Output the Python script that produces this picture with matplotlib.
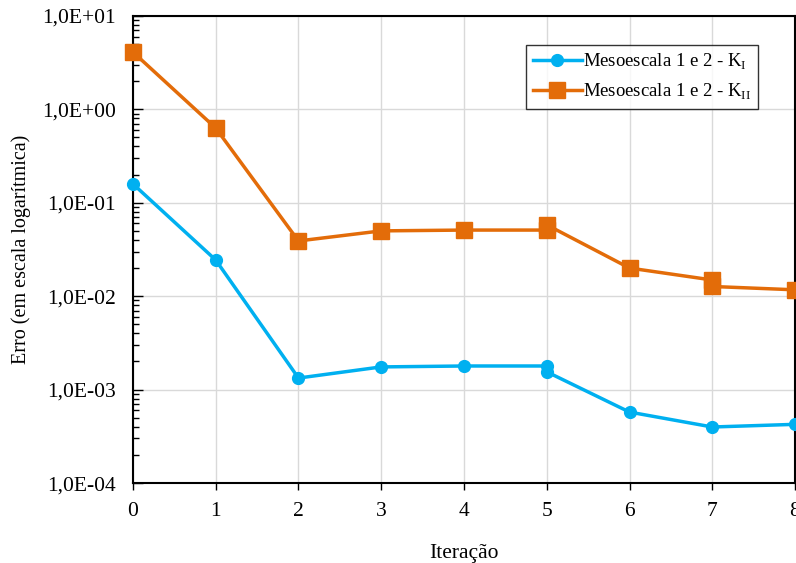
import numpy as np
import matplotlib
matplotlib.use("Agg")
from matplotlib import pyplot as plt
from matplotlib.ticker import LogLocator, FuncFormatter, NullFormatter

plt.rcParams['font.family'] = ['Liberation Serif', 'DejaVu Serif']
plt.rcParams['mathtext.fontset'] = 'custom'
plt.rcParams['mathtext.rm'] = 'Liberation Serif'

# iterations (5 and 7 appear twice: two evaluations at the same step)
it_k1 = [0, 1, 2, 3, 4, 5, 5, 6, 7, 8]
err_k1 = [0.159, 0.0244, 0.00133, 0.00175, 0.00179, 0.00179, 0.00155, 0.000575, 0.000398, 0.000425]

it_k2 = [0, 1, 2, 3, 4, 5, 5, 6, 7, 7, 8]
err_k2 = [4.1, 0.63, 0.039, 0.050, 0.051, 0.051, 0.058, 0.020, 0.0149, 0.0127, 0.0117]

lbl_k1 = r'Mesoescala 1 e 2 - K$_{\mathrm{I}}$'
lbl_k2 = r'Mesoescala 1 e 2 - K$_{\mathrm{II}}$'

fig = plt.figure(figsize=(7.96, 5.63), dpi=100)
ax = fig.add_axes([0.167, 0.142, 0.8318, 0.8298])

ax.plot(it_k1, err_k1, color='#00B0F0', lw=2.5, marker='o', ms=8.5, label=lbl_k1,
        zorder=3, clip_on=False)
ax.plot(it_k2, err_k2, color='#E36C09', lw=2.5, marker='s', ms=11, label=lbl_k2,
        zorder=3, clip_on=False)

ax.set_yscale('log')
ax.set_ylim(1e-4, 1e1)
ax.set_xlim(0, 8)
ax.set_xticks(range(9))

def sci_comma(v, pos):
    e = int(np.round(np.log10(v)))
    return '1,0E%s%02d' % ('+' if e >= 0 else '-', abs(e))

ax.yaxis.set_major_locator(LogLocator(base=10, numticks=10))
ax.yaxis.set_major_formatter(FuncFormatter(sci_comma))
ax.yaxis.set_minor_locator(LogLocator(base=10, subs=np.arange(2, 10), numticks=10))
ax.yaxis.set_minor_formatter(NullFormatter())

ax.grid(True, which='major', color='#d9d9d9', lw=1.0)
ax.set_axisbelow(True)

ax.tick_params(axis='y', which='major', direction='in', length=7, width=1, labelsize=15.5, pad=12)
ax.tick_params(axis='y', which='minor', direction='in', length=4, width=1)
ax.tick_params(axis='x', which='major', direction='out', length=5, width=1, labelsize=15.5, pad=9)

for s in ax.spines.values():
    s.set_linewidth(1.5)
    s.set_color('black')

ax.set_xlabel('Iteração', fontsize=15.5, labelpad=16)
ax.set_ylabel('Erro (em escala logarítmica)', fontsize=14.5, labelpad=8)

leg = ax.legend(loc='upper right', bbox_to_anchor=(0.944, 0.938), borderaxespad=0,
                fontsize=13.5, frameon=True, fancybox=False, edgecolor='black',
                handlelength=2.6, borderpad=0.35, labelspacing=0.55, handletextpad=0.1)
leg.get_frame().set_linewidth(1.0)

fig.savefig('out.png', dpi=100)
